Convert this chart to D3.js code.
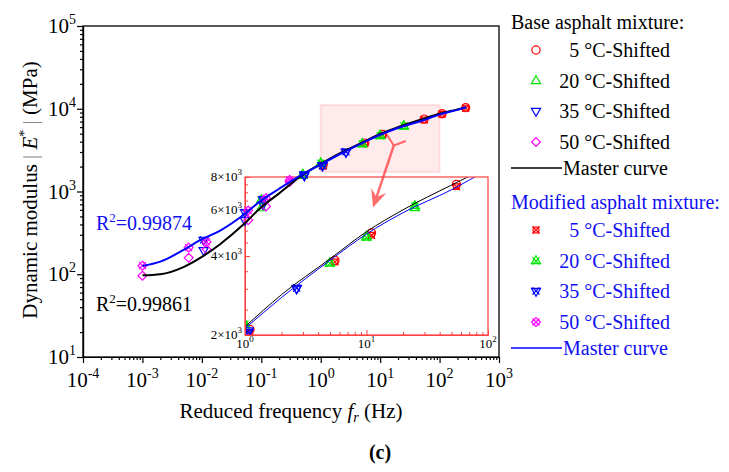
<!DOCTYPE html>
<html>
<head>
<meta charset="utf-8">
<script src="https://cdn.jsdelivr.net/npm/d3@7"></script>
<style>
  body { margin: 0; background: #fff; }
  svg { font-family: 'Liberation Serif', 'DejaVu Serif', serif; }
</style>
</head>
<body>
<svg id="chart" width="729" height="472"></svg>
<script>
// Reduced frequencies (Hz) of the shifted test points, one list per temperature
var freq5  = [1.1, 5.5, 11, 55, 110, 275];
var freq20 = [0.1, 0.5, 1, 5, 10, 25];
var freq35 = [0.0107, 0.053, 0.107, 0.53, 1.07, 2.66];
var freq50 = [0.001, 0.006, 0.012, 0.06, 0.12, 0.3];

// Dynamic modulus |E*| (MPa), base asphalt mixture
var base5  = [2100, 3850, 4900, 7500, 8700, 10300];
var base20 = [630, 1550, 2150, 3750, 4750, 6100];
var base35 = [195, 450, 700, 1550, 2080, 3000];
var base50 = [96, 158, 200, 450, 660, 1300];

// Dynamic modulus |E*| (MPa), modified asphalt mixture
var mod5  = [2030, 3800, 4800, 7350, 8600, 10200];
var mod20 = [790, 1600, 2200, 3750, 4700, 6200];
var mod35 = [260, 560, 800, 1600, 2050, 3020];
var mod50 = [127, 210, 246, 590, 830, 1380];

// Master curves
var curveFreq = [0.001, 0.002, 0.005, 0.01, 0.02, 0.05, 0.1, 0.2, 0.5, 1, 2, 5, 10, 20, 50, 100, 200, 280];
var baseCurve = [97, 100, 123, 162, 229, 398, 645, 950, 1600, 2150, 2850, 3900, 4950, 6000, 7450, 8700, 9800, 10400];
var modCurve  = [126, 142, 198, 265, 335, 520, 780, 1080, 1620, 2120, 2780, 3850, 4850, 5850, 7150, 8500, 9700, 10400];

// Tick labels
var xExponents = ['-4', '-3', '-2', '-1', '0', '1', '2', '3'];
var yExponents = ['1', '2', '3', '4', '5'];
var insetXExponents = ['0', '1', '2'];
var insetYValues = [2000, 4000, 6000, 8000];
var insetYLabels = ['2', '4', '6', '8'];

var tempLabels = ['5 °C-Shifted', '20 °C-Shifted', '35 °C-Shifted', '50 °C-Shifted'];
var r2Base = '0.99861', r2Mod = '0.99874';

var RED = '#ff0000', GREEN = '#00e600', BLUE = '#0000ff', PINK = '#ff00ff';
var TEXT_BLUE = '#1010f0';

var svg = d3.select('#chart');

// Main scales
var x = d3.scaleLog().domain([1e-4, 1e3]).range([83, 499]);
var y = d3.scaleLog().domain([1e1, 1e5]).range([357, 26]);

// Inset scales
var ix = d3.scaleLog().domain([1, 100]).range([245, 488]);
var iy = d3.scaleLog().domain([2000, 8000]).range([335, 177]);

// Table of series built from the arrays above
var freqs = [freq5, freq20, freq35, freq50];
var colors = [RED, GREEN, BLUE, PINK];
var baseVals = [base5, base20, base35, base50];
var modVals = [mod5, mod20, mod35, mod50];
var baseShapes = [
  {type: d3.symbolCircle, size: 52, rot: 0},
  {type: d3.symbolTriangle2, size: 60, rot: 0},
  {type: d3.symbolTriangle2, size: 60, rot: 180},
  {type: d3.symbolDiamond2, size: 50, rot: 0}
];
var modShapes = [
  {type: d3.symbolSquare2, size: 40, rot: 0},
  {type: d3.symbolTriangle2, size: 60, rot: 0},
  {type: d3.symbolTriangle2, size: 60, rot: 180},
  {type: d3.symbolDiamond2, size: 50, rot: 0}
];
var seriesTable = [];
freqs.forEach(function (f, i) {
  seriesTable.push({f: f, v: baseVals[i], color: colors[i], shape: baseShapes[i], cross: false});
  seriesTable.push({f: f, v: modVals[i], color: colors[i], shape: modShapes[i], cross: true});
});

// draw a marker (shape, plus an X when it is a modified series) into g
var drawMarker = function (g, shape, color, cross) {
  g.append('path')
    .attr('d', d3.symbol(shape.type, shape.size)())
    .attr('transform', `rotate(${shape.rot})`)
    .attr('fill', 'none').attr('stroke', color).attr('stroke-width', 1.2);
  if (cross) {
    g.append('path')
      .attr('d', d3.symbol(d3.symbolTimes, 34)())
      .attr('fill', 'none').attr('stroke', color).attr('stroke-width', 1.2);
  }
};

var drawPoints = function (g, sx, sy) {
  seriesTable.forEach(function (s) {
    s.f.forEach(function (f, i) {
      var m = g.append('g').attr('transform', `translate(${sx(f)},${sy(s.v[i])})`);
      drawMarker(m, s.shape, s.color, s.cross);
    });
  });
};

var drawCurves = function (g, sx, sy, width) {
  var line = d3.line()
    .x(function (d) { return sx(d[0]); })
    .y(function (d) { return sy(d[1]); })
    .curve(d3.curveMonotoneX);
  g.append('path').datum(curveFreq.map((f, i) => [f, baseCurve[i]]))
    .attr('d', line).attr('fill', 'none').attr('stroke', '#000').attr('stroke-width', width);
  g.append('path').datum(curveFreq.map((f, i) => [f, modCurve[i]]))
    .attr('d', line).attr('fill', 'none').attr('stroke', BLUE).attr('stroke-width', width);
};

// superscript label helper: base text then a raised exponent
var powerLabel = function (text, base, exp, supSize, dy) {
  text.append('tspan').text(base);
  text.append('tspan').text(exp).attr('font-size', supSize).attr('dy', dy);
};

// Minor ticks for log axes
var minorTicks = function (lo, hi) {
  var out = [];
  for (var e = lo; e < hi; e++) {
    for (var k = 2; k <= 9; k++) out.push(k * Math.pow(10, e));
  }
  return out;
};

// ---------- Main axes ----------
var xMajor = xExponents.map(e => Math.pow(10, +e));
var yMajor = yExponents.map(e => Math.pow(10, +e));

svg.append('g').attr('transform', 'translate(0,357)')
  .call(d3.axisBottom(x).tickValues(minorTicks(-4, 3)).tickSize(3).tickSizeOuter(0).tickFormat(''));
svg.append('g').attr('transform', 'translate(0,357)')
  .call(d3.axisBottom(x).tickValues(xMajor).tickSize(6).tickSizeOuter(0).tickFormat(''));
svg.append('g').attr('transform', 'translate(83,0)')
  .call(d3.axisLeft(y).tickValues(minorTicks(1, 5)).tickSize(3).tickSizeOuter(0).tickFormat(''));
svg.append('g').attr('transform', 'translate(83,0)')
  .call(d3.axisLeft(y).tickValues(yMajor).tickSize(6).tickSizeOuter(0).tickFormat(''));
svg.selectAll('.domain, .tick line').attr('stroke', '#000').attr('stroke-width', 1.2);

svg.append('rect')
  .attr('x', x.range()[0]).attr('y', y.range()[1])
  .attr('width', x.range()[1] - x.range()[0]).attr('height', y.range()[0] - y.range()[1])
  .attr('fill', 'none').attr('stroke', '#000').attr('stroke-width', 1.3);

xExponents.forEach(function (e, i) {
  var t = svg.append('text').attr('x', x(xMajor[i])).attr('y', 387)
    .attr('text-anchor', 'middle').attr('font-size', 21);
  powerLabel(t, '10', e, 14, -9);
});
yExponents.forEach(function (e, i) {
  var t = svg.append('text').attr('x', 76).attr('y', y(yMajor[i]) + 7)
    .attr('text-anchor', 'end').attr('font-size', 21);
  powerLabel(t, '10', e, 14, -9);
});

// Axis titles
var xt = svg.append('text').attr('x', 291).attr('y', 418)
  .attr('text-anchor', 'middle').attr('font-size', 21);
xt.append('tspan').text('Reduced frequency ');
xt.append('tspan').text('f').attr('font-style', 'italic');
xt.append('tspan').text('r').attr('font-style', 'italic').attr('font-size', 14).attr('dy', 4);
xt.append('tspan').text(' (Hz)').attr('dy', -4);

var yt = svg.append('text').attr('transform', 'translate(37,190) rotate(-90)')
  .attr('text-anchor', 'middle').attr('font-size', 21);
yt.append('tspan').text('Dynamic modulus ');
yt.append('tspan').text('|').attr('fill', '#888');
yt.append('tspan').text(' E').attr('font-style', 'italic');
yt.append('tspan').text('*').attr('font-size', 14).attr('dy', -8);
yt.append('tspan').text(' |').attr('fill', '#888').attr('dy', 8);
yt.append('tspan').text(' (MPa)');

svg.append('text').attr('x', 380).attr('y', 459).attr('text-anchor', 'middle')
  .attr('font-size', 20).attr('font-weight', 'bold').text('(c)');

// ---------- Zoom-window highlight ----------
svg.append('rect')
  .attr('x', x(1)).attr('y', y(11100))
  .attr('width', x(100) - x(1)).attr('height', y(1720) - y(11100))
  .attr('fill', 'rgba(255,0,0,0.08)').attr('stroke', 'rgba(255,0,0,0.10)').attr('stroke-width', 2);

// ---------- Inset (transparent, main curves show through) ----------
var ix0 = ix.range()[0], ix1 = ix.range()[1], iy0 = iy.range()[1], iy1 = iy.range()[0];
svg.append('clipPath').attr('id', 'inset-clip').append('rect')
  .attr('x', ix0).attr('y', iy0).attr('width', ix1 - ix0).attr('height', iy1 - iy0);

var inset = svg.append('g').attr('clip-path', 'url(#inset-clip)');
drawPoints(inset, ix, iy);
drawCurves(inset, ix, iy, 1);

var insetMinorY = d3.range(2500, 8000, 500);
var ig = svg.append('g');
ig.append('g').attr('transform', `translate(0,${iy1})`)
  .call(d3.axisTop(ix).tickValues(minorTicks(0, 2)).tickSize(3).tickSizeOuter(0).tickFormat(''));
ig.append('g').attr('transform', `translate(0,${iy1})`)
  .call(d3.axisTop(ix).tickValues([1, 10, 100]).tickSize(5).tickSizeOuter(0).tickFormat(''));
ig.append('g').attr('transform', `translate(${ix0},0)`)
  .call(d3.axisRight(iy).tickValues(insetMinorY).tickSize(3).tickSizeOuter(0).tickFormat(''));
ig.append('g').attr('transform', `translate(${ix0},0)`)
  .call(d3.axisRight(iy).tickValues(insetYValues).tickSize(5).tickSizeOuter(0).tickFormat(''));
ig.selectAll('.domain, .tick line').attr('stroke', '#ff4040').attr('stroke-width', 1);
ig.append('rect').attr('x', ix0).attr('y', iy0).attr('width', ix1 - ix0).attr('height', iy1 - iy0)
  .attr('fill', 'none').attr('stroke', '#ff4040').attr('stroke-width', 1.2);

insetXExponents.forEach(function (e) {
  var t = svg.append('text').attr('x', ix(Math.pow(10, +e))).attr('y', 348)
    .attr('text-anchor', 'middle').attr('font-size', 13);
  powerLabel(t, '10', e, 9, -6);
});
insetYValues.forEach(function (v, i) {
  var t = svg.append('text').attr('x', ix0 - 3).attr('y', iy(v) + 4)
    .attr('text-anchor', 'end').attr('font-size', 13);
  powerLabel(t, insetYLabels[i] + '×10', '3', 9, -6);
});

// ---------- Main data (drawn over the inset frame) ----------
var main = svg.append('g');
drawPoints(main, x, y);
drawCurves(main, x, y, 2);

// R-squared labels
var r2m = svg.append('text').attr('x', 96).attr('y', 230).attr('font-size', 20).attr('fill', TEXT_BLUE);
powerLabel(r2m, 'R', '2', 13, -8);
r2m.append('tspan').text('=' + r2Mod).attr('dy', 8);
var r2b = svg.append('text').attr('x', 96).attr('y', 311).attr('font-size', 20).attr('fill', '#000');
powerLabel(r2b, 'R', '2', 13, -8);
r2b.append('tspan').text('=' + r2Base).attr('dy', 8);

// Arrow from the highlighted window down to the inset
var tail = [x(17), y(3600)], head = [x(7.6), y(640)];
var ang = Math.atan2(head[1] - tail[1], head[0] - tail[0]);
var rot = function (p, a) {
  return [p[0] * Math.cos(a) - p[1] * Math.sin(a), p[0] * Math.sin(a) + p[1] * Math.cos(a)];
};
var arrow = svg.append('g').attr('opacity', 0.7);
arrow.append('line')
  .attr('x1', tail[0]).attr('y1', tail[1]).attr('x2', head[0] - 8 * Math.cos(ang)).attr('y2', head[1] - 8 * Math.sin(ang))
  .attr('stroke', '#ff3030').attr('stroke-width', 2.5);
var headPts = [[0, 0], [-18, -8], [-11, 0], [-18, 8]].map(p => rot(p, ang)).map(p => [p[0] + head[0], p[1] + head[1]]);
arrow.append('path').attr('d', 'M' + headPts.join('L') + 'Z').attr('fill', '#ff3030');
var tailPts = [[0, 0], [-8, -10], [4, 0], [-8, 10]].map(p => rot(p, ang)).map(p => [p[0] + tail[0], p[1] + tail[1]]);
arrow.append('path').attr('d', 'M' + [tailPts[1], tailPts[0], tailPts[3]].join('L'))
  .attr('fill', 'none').attr('stroke', '#ff3030').attr('stroke-width', 2);

// ---------- Legend ----------
var legend = svg.append('g');
var drawLegendBlock = function (top, title, shapes, textColor, lineColor) {
  legend.append('text').attr('x', 511).attr('y', top + 7).attr('font-size', 20)
    .attr('fill', textColor).text(title);
  var rowY = [top + 28, top + 59, top + 89, top + 120];
  shapes.forEach(function (shape, i) {
    var m = legend.append('g').attr('transform', `translate(536,${rowY[i]})`);
    drawMarker(m, shape, colors[i], shapes === modShapes);
    legend.append('text').attr('x', 670).attr('y', rowY[i] + 7).attr('text-anchor', 'end')
      .attr('font-size', 20).attr('fill', textColor).text(tempLabels[i]);
  });
  legend.append('line').attr('x1', 511).attr('x2', 562).attr('y1', top + 146).attr('y2', top + 146)
    .attr('stroke', lineColor).attr('stroke-width', 1.5);
  legend.append('text').attr('x', 563).attr('y', top + 153).attr('font-size', 20)
    .attr('fill', textColor).text('Master curve');
};
drawLegendBlock(22, 'Base asphalt mixture:', baseShapes, '#000', '#000');
drawLegendBlock(202, 'Modified asphalt mixture:', modShapes, TEXT_BLUE, BLUE);
</script>
</body>
</html>
